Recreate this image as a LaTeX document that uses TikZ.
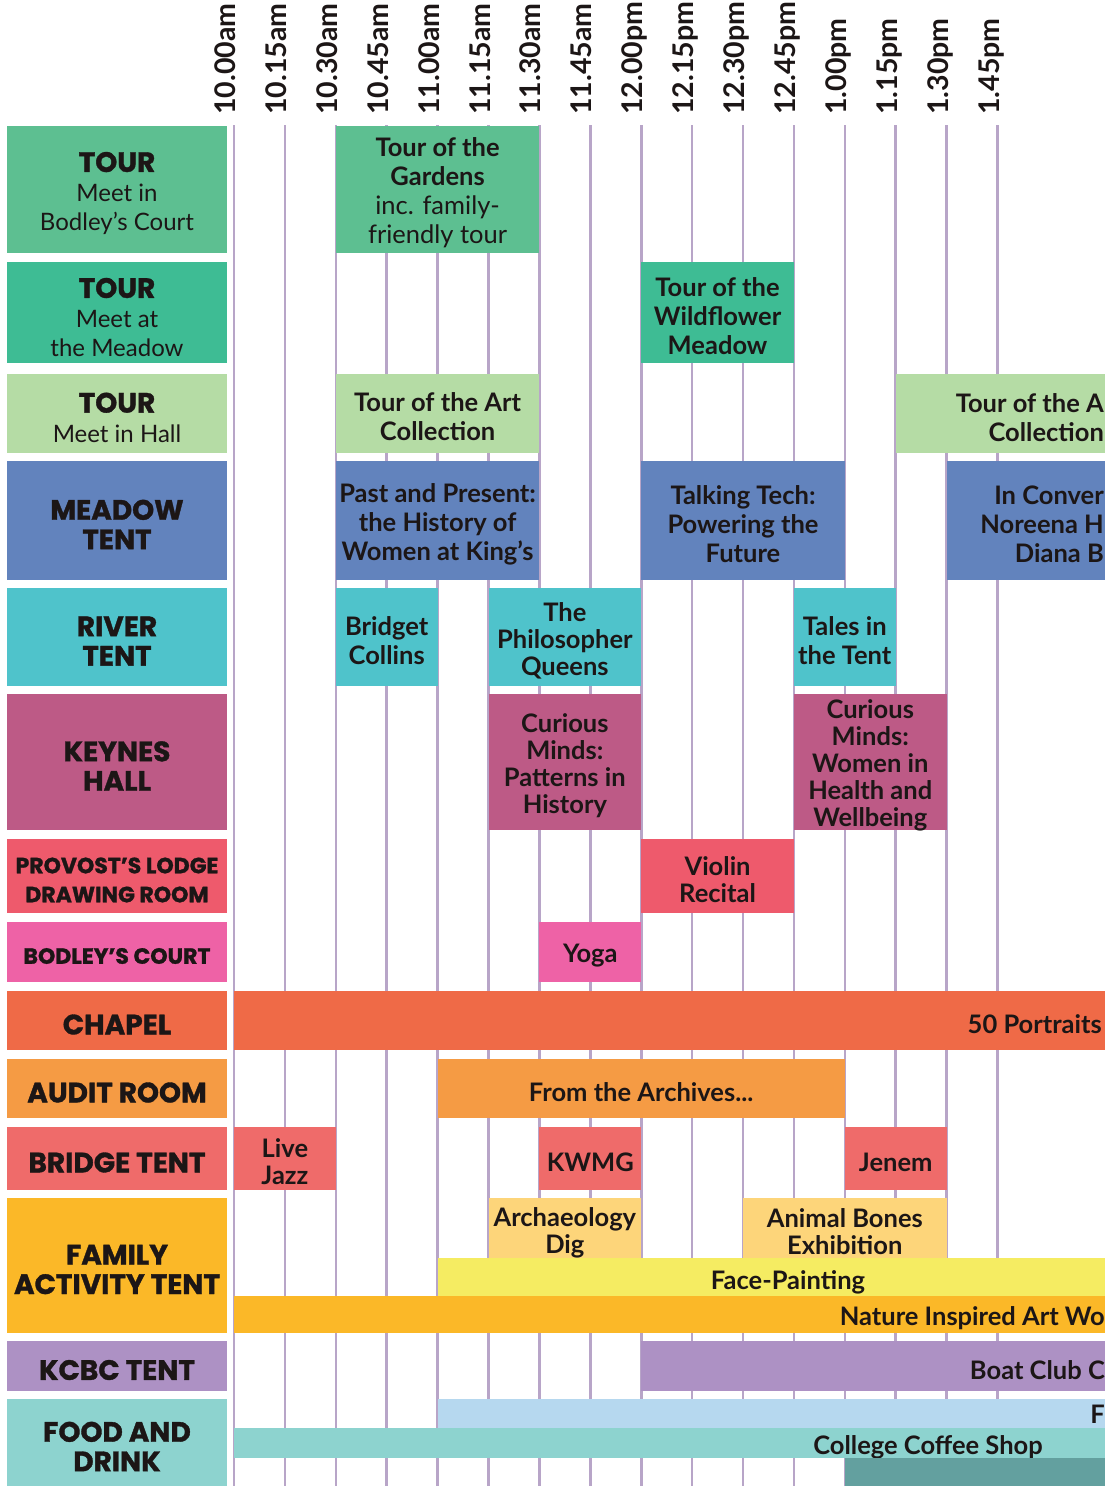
\documentclass[tikz,border=0pt]{standalone}
\usepackage{fontspec}
\setmainfont{Lato}
\newfontfamily\venuefont{Poppins}[BoldFeatures={FakeBold=1.2}]

\definecolor{gridline}{HTML}{B8A5C8}
\definecolor{ink}{HTML}{1C1616}
\definecolor{tourgarden}{HTML}{5DBF91}
\definecolor{tourmeadow}{HTML}{3EBC94}
\definecolor{tourhall}{HTML}{B5DCA5}
\definecolor{meadowtent}{HTML}{6283BD}
\definecolor{rivertent}{HTML}{4FC3CB}
\definecolor{keynes}{HTML}{BD5A86}
\definecolor{provost}{HTML}{EE5A6C}
\definecolor{bodley}{HTML}{EE62A6}
\definecolor{chapel}{HTML}{EF6A47}
\definecolor{audit}{HTML}{F59B44}
\definecolor{bridge}{HTML}{EF6B6A}
\definecolor{family}{HTML}{FBB828}
\definecolor{digpale}{HTML}{FDD57A}
\definecolor{facepaint}{HTML}{F5EC62}
\definecolor{kcbc}{HTML}{AD91C4}
\definecolor{food}{HTML}{8DD3CF}
\definecolor{foodblue}{HTML}{B6D8EF}
\definecolor{fooddark}{HTML}{63A09F}

\newcommand{\subline}{\normalfont\fontsize{24}{27}\selectfont}

\begin{document}
\begin{tikzpicture}[x=1pt,y=-1pt,
    slot/.style={draw=gridline,line width=2.6pt},
    time/.style={rotate=90,anchor=mid west,inner sep=0pt,text=ink,
      font=\bfseries\fontsize{28.5}{28}\selectfont},
    venue/.style={inner sep=0pt,minimum width=220pt},
    vtext/.style={inner sep=0pt,align=center,text=ink,yshift=-4pt,
      font=\venuefont\bfseries\fontsize{28}{29.5}\selectfont},
    smallvtext/.style={vtext,font=\venuefont\bfseries\fontsize{22}{29}\selectfont},
    event/.style={inner sep=0pt},
    evtext/.style={inner sep=0pt,align=center,text=ink,yshift=-3.5pt,
      font=\bfseries\fontsize{25.5}{29}\selectfont},
    tightevtext/.style={evtext,font=\bfseries\fontsize{25.5}{27}\selectfont},
    bartext/.style={inner sep=0pt,align=right,text=ink,
      font=\bfseries\fontsize{25.5}{29}\selectfont}]
  \useasboundingbox (0,0) rectangle (1109,1486);
  \clip (0,0) rectangle (1109,1486);

  \path
    (233.0,115) node[time] (t1000) {10.00am}
    (283.9,115) node[time] (t1015) {10.15am}
    (334.8,115) node[time] (t1030) {10.30am}
    (385.7,115) node[time] (t1045) {10.45am}
    (436.6,115) node[time] (t1100) {11.00am}
    (487.5,115) node[time] (t1115) {11.15am}
    (538.4,115) node[time] (t1130) {11.30am}
    (589.3,115) node[time] (t1145) {11.45am}
    (640.2,115) node[time] (t1200) {12.00pm}
    (691.1,115) node[time] (t1215) {12.15pm}
    (742.0,115) node[time] (t1230) {12.30pm}
    (792.9,115) node[time] (t1245) {12.45pm}
    (843.8,115) node[time] (t1300) {1.00pm}
    (894.7,115) node[time] (t1315) {1.15pm}
    (945.6,115) node[time] (t1330) {1.30pm}
    (996.5,115) node[time] (t1345) {1.45pm};

  \begin{scope}[slot]
    \draw (234.0,125) -- (234.0,1486);
    \draw (284.9,125) -- (284.9,1486);
    \draw (335.8,125) -- (335.8,1486);
    \draw (386.7,125) -- (386.7,1486);
    \draw (437.6,125) -- (437.6,1486);
    \draw (488.5,125) -- (488.5,1486);
    \draw (539.4,125) -- (539.4,1486);
    \draw (590.3,125) -- (590.3,1486);
    \draw (641.2,125) -- (641.2,1486);
    \draw (692.1,125) -- (692.1,1486);
    \draw (743.0,125) -- (743.0,1486);
    \draw (793.9,125) -- (793.9,1486);
    \draw (844.8,125) -- (844.8,1486);
    \draw (895.7,125) -- (895.7,1486);
    \draw (946.6,125) -- (946.6,1486);
    \draw (997.5,125) -- (997.5,1486);
  \end{scope}

  % venues
  \node[venue,fill=tourgarden,minimum height=127pt,
    label={[vtext]center:{TOUR\\{\subline Meet in}\\{\subline Bodley’s Court}}}] (vgarden) at (117,189.5) {};
  \node[venue,fill=tourmeadow,minimum height=101pt,
    label={[vtext,yshift=-1pt]center:{TOUR\\{\subline Meet at}\\{\subline the Meadow}}}] (vmeadow) at (117,312.5) {};
  \node[venue,fill=tourhall,minimum height=79pt,
    label={[vtext]center:{TOUR\\{\subline Meet in Hall}}}] (vhall) at (117,413.5) {};
  \node[venue,fill=meadowtent,minimum height=119pt,label={[vtext]center:{MEADOW\\TENT}}] (vmtent) at (117,520.5) {};
  \node[venue,fill=rivertent,minimum height=98pt,label={[vtext]center:{RIVER\\TENT}}] (vriver) at (117,637) {};
  \node[venue,fill=keynes,minimum height=136pt,label={[vtext]center:{KEYNES\\HALL}}] (vkeynes) at (117,762) {};
  \node[venue,fill=provost,minimum height=74pt,
    label={[smallvtext]center:{PROVOST’S LODGE\\DRAWING ROOM}}] (vprovost) at (117,876) {};
  \node[venue,fill=bodley,minimum height=60pt,label={[smallvtext]center:{BODLEY’S COURT}}] (vbodley) at (117,952) {};
  \node[venue,fill=chapel,minimum height=59pt,label={[vtext]center:{CHAPEL}}] (vchapel) at (117,1020.5) {};
  \node[venue,fill=audit,minimum height=59pt,label={[vtext]center:{AUDIT ROOM}}] (vaudit) at (117,1088.5) {};
  \node[venue,fill=bridge,minimum height=63pt,label={[vtext]center:{BRIDGE TENT}}] (vbridge) at (117,1158.5) {};
  \node[venue,fill=family,minimum height=135pt,label={[vtext]center:{FAMILY\\ACTIVITY TENT}}] (vfamily) at (117,1265.5) {};
  \node[venue,fill=kcbc,minimum height=50pt,label={[vtext]center:{KCBC TENT}}] (vkcbc) at (117,1366) {};
  \node[venue,fill=food,minimum height=87pt,label={[vtext]center:{FOOD AND\\DRINK}}] (vfood) at (117,1442.5) {};

  % events
  \node[event,fill=tourgarden,minimum width=203.6pt,minimum height=127pt,
    label={[evtext]center:{Tour of the\\Gardens\\{\mdseries inc. family-}\\{\mdseries friendly tour}}}] (gardens) at (437.6,189.5) {};
  \node[event,fill=tourmeadow,minimum width=152.7pt,minimum height=101pt,
    label={[evtext]center:{Tour of the\\Wildflower\\Meadow}}] (wildflower) at (717.55,312.5) {};
  \node[event,fill=tourhall,minimum width=203.6pt,minimum height=79pt,
    label={[evtext]center:{Tour of the Art\\Collection}}] (artone) at (437.6,413.5) {};
  \node[event,fill=tourhall,minimum width=209.3pt,minimum height=79pt] (arttwo) at (1000.35,413.5) {};
  \node[bartext,anchor=east] (arttwotext) at (1104,418) {Tour of the A\\Collection};
  \node[event,fill=meadowtent,minimum width=203.6pt,minimum height=119pt,
    label={[evtext]center:{Past and Present:\\the History of\\Women at King’s}}] (pastpresent) at (437.6,520.5) {};
  \node[event,fill=meadowtent,minimum width=203.6pt,minimum height=119pt,
    label={[evtext]center:{Talking Tech:\\Powering the\\Future}}] (talkingtech) at (743,520.5) {};
  \node[event,fill=meadowtent,minimum width=158.4pt,minimum height=119pt] (inconv) at (1025.8,520.5) {};
  \node[bartext,anchor=east] (inconvtext) at (1104,524) {In Conver\\Noreena H\\Diana B};
  \node[event,fill=rivertent,minimum width=101.8pt,minimum height=98pt,
    label={[evtext]center:{Bridget\\Collins}}] (bridget) at (386.7,637) {};
  \node[event,fill=rivertent,minimum width=152.7pt,minimum height=98pt,
    label={[tightevtext]center:{The\\Philosopher\\Queens}}] (philqueens) at (564.85,637) {};
  \node[event,fill=rivertent,minimum width=101.8pt,minimum height=98pt,
    label={[evtext]center:{Tales in\\the Tent}}] (tales) at (844.8,637) {};
  \node[event,fill=keynes,minimum width=152.7pt,minimum height=136pt,
    label={[tightevtext]center:{Curious\\Minds:\\Patterns in\\History}}] (curiousone) at (564.85,762) {};
  \node[event,fill=keynes,minimum width=152.7pt,minimum height=136pt,
    label={[tightevtext]center:{Curious\\Minds:\\Women in\\Health and\\Wellbeing}}] (curioustwo) at (870.25,762) {};
  \node[event,fill=provost,minimum width=152.7pt,minimum height=74pt,
    label={[tightevtext]center:{Violin\\Recital}}] (violin) at (717.55,876) {};
  \node[event,fill=bodley,minimum width=101.8pt,minimum height=60pt,
    label={[evtext]center:{Yoga}}] (yoga) at (590.3,952) {};
  \node[event,fill=chapel,minimum width=871pt,minimum height=59pt] (portraits) at (669.5,1020.5) {};
  \node[bartext,anchor=east] (portraitstext) at (1102,1024) {50 Portraits};
  \node[event,fill=audit,minimum width=407.2pt,minimum height=59pt,
    label={[evtext]center:{From the Archives...}}] (archives) at (641.2,1088.5) {};
  \node[event,fill=bridge,minimum width=101.8pt,minimum height=63pt,
    label={[tightevtext]center:{Live\\Jazz}}] (jazz) at (284.9,1158.5) {};
  \node[event,fill=bridge,minimum width=101.8pt,minimum height=63pt,
    label={[evtext]center:{KWMG}}] (kwmg) at (590.3,1158.5) {};
  \node[event,fill=bridge,minimum width=101.8pt,minimum height=63pt,
    label={[evtext]center:{Jenem}}] (jenem) at (895.7,1158.5) {};
  \node[event,fill=digpale,minimum width=152.7pt,minimum height=60pt,
    label={[tightevtext,yshift=-1.5pt]center:{Archaeology\\Dig}}] (dig) at (564.85,1228) {};
  \node[event,fill=digpale,minimum width=203.6pt,minimum height=60pt,
    label={[tightevtext]center:{Animal Bones\\Exhibition}}] (bones) at (844.8,1228) {};
  \node[event,fill=facepaint,minimum width=667.4pt,minimum height=38pt] (face) at (771.3,1277) {};
  \node[evtext] (facetext) at (788,1279) {Face-Painting};
  \node[event,fill=family,minimum width=871pt,minimum height=37pt] (nature) at (669.5,1314.5) {};
  \node[bartext,anchor=east] (naturetext) at (1105,1318) {Nature Inspired Art Wo};
  \node[event,fill=kcbc,minimum width=463.8pt,minimum height=50pt] (boatclub) at (873.1,1366) {};
  \node[bartext,anchor=east] (boatclubtext) at (1105,1370) {Boat Club C};
  \node[event,fill=foodblue,minimum width=667.4pt,minimum height=29pt] (foodtop) at (771.3,1413.5) {};
  \node[bartext,anchor=east] (foodtoptext) at (1105,1414) {F};
  \node[event,fill=food,minimum width=871pt,minimum height=30pt] (coffee) at (669.5,1443) {};
  \node[evtext] (coffeetext) at (928,1444) {College Coffee Shop};
  \node[event,fill=fooddark,minimum width=260.2pt,minimum height=42pt] (foodlow) at (974.9,1479) {};
\end{tikzpicture}
\end{document}
